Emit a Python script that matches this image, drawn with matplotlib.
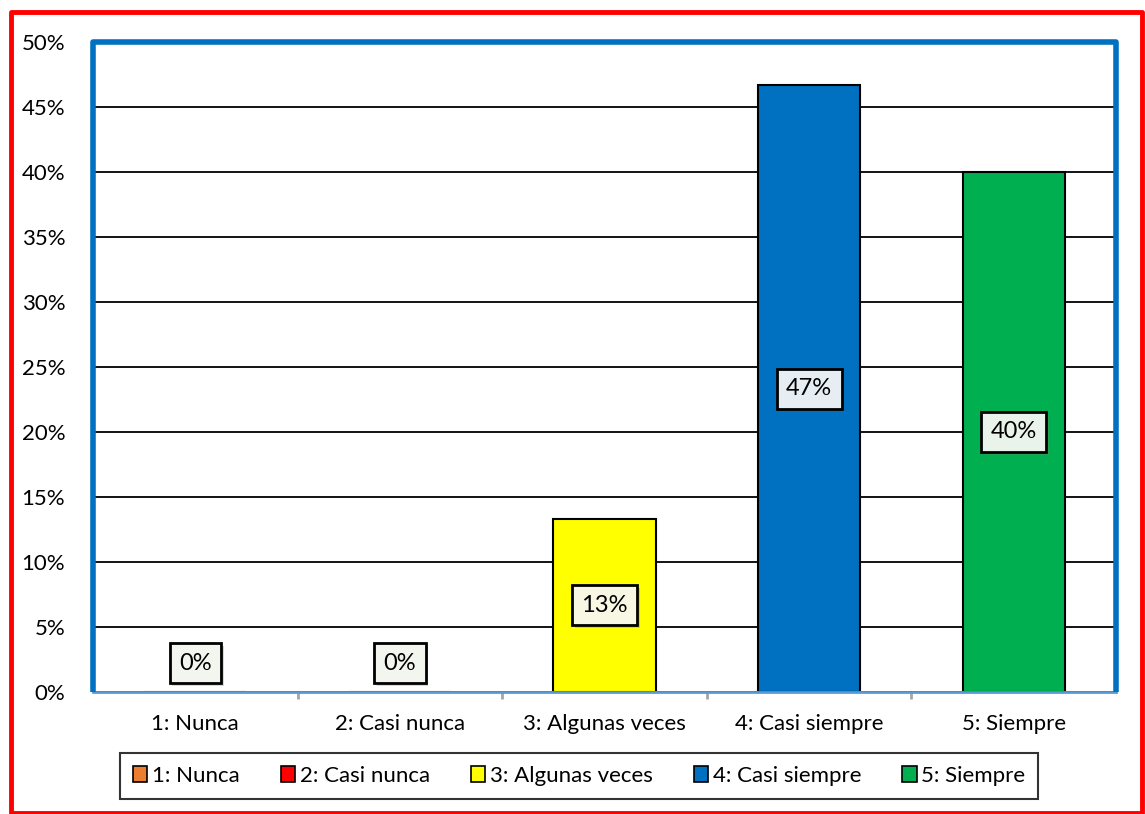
import matplotlib
matplotlib.use("Agg")
import matplotlib.pyplot as plt
from matplotlib.patches import Rectangle, Patch
from matplotlib.lines import Line2D
from matplotlib.ticker import FuncFormatter, MultipleLocator, FixedLocator
import matplotlib.patheffects as pe

categories = ["1: Nunca", "2: Casi nunca", "3: Algunas veces", "4: Casi siempre", "5: Siempre"]
values = [0.0, 0.0, 13.33, 46.67, 40.0]
labels = ["0%", "0%", "13%", "47%", "40%"]
colors = ["#ed7d31", "#ff0000", "#ffff00", "#0070c0", "#00b050"]
label_fills = ["#f3f6ee", "#f3f6ee", "#f7f7e4", "#e6eef4", "#eaf3ea"]

plt.rcParams['font.family'] = ['Lato', 'DejaVu Sans']

fig = plt.figure(figsize=(11.45, 8.14), dpi=100)
ax = fig.add_axes([93/1145, 122/814, (1116-93)/1145, (692-42)/814])

x = list(range(len(categories)))
ax.set_xlim(-0.5, len(categories) - 0.5)
ax.set_ylim(0, 50)

ax.yaxis.set_major_locator(MultipleLocator(5))
ax.yaxis.set_major_formatter(FuncFormatter(lambda v, p: f"{int(round(v))}%"))
ax.grid(axis='y', color='black', lw=1.3, zorder=0)
ax.set_axisbelow(True)

bars = ax.bar(x, values, width=0.5, color=colors, edgecolor='black', lw=1.5, zorder=3)

for xi, v, lab, fc in zip(x, values, labels, label_fills):
    y = v / 2 if v > 0 else 2.2
    t = ax.text(xi, y, lab, ha='center', va='center', fontsize=17, color='black', zorder=5,
                bbox=dict(boxstyle='square,pad=0.4', fc=fc, ec='black', lw=2))
    t.get_bbox_patch().set_path_effects([
        pe.SimplePatchShadow(offset=(2, -2), shadow_rgbFace=(0.45, 0.55, 0.35), alpha=0.3),
        pe.Normal()])

ax.set_xticks(x)
ax.set_xticklabels(categories, fontsize=16)
ax.xaxis.set_minor_locator(FixedLocator([0.5, 1.5, 2.5, 3.5]))
ax.tick_params(axis='x', which='major', length=0, pad=16)
ax.tick_params(axis='x', which='minor', length=5, width=2, color='#a6a6a6')
ax.tick_params(axis='y', length=0, pad=20, labelsize=16)

for s in ['top', 'left', 'right']:
    ax.spines[s].set_visible(False)
ax.spines['bottom'].set_color('#5b9bd5')
ax.spines['bottom'].set_linewidth(2)
ax.spines['bottom'].set_zorder(6)

border = Line2D([0, 0, 1, 1], [0, 1, 1, 0], transform=ax.transAxes, color='#0070c0',
                lw=4, solid_joinstyle='round', solid_capstyle='butt', clip_on=False, zorder=7)
ax.add_line(border)

# outer red border
fig.patches.append(Rectangle((11/1145, 1/814), (1142-11)/1145, (802-1)/814,
                             transform=fig.transFigure, fill=False, ec='#ff0000', lw=3.5,
                             joinstyle='round'))

handles = [Patch(facecolor=c, edgecolor='black', lw=1.2) for c in colors]
leg = fig.legend(handles, categories, loc='center', bbox_to_anchor=(579/1145, 1 - 776/814),
                 ncol=5, fontsize=16, frameon=True, fancybox=False, handlelength=0.65,
                 handleheight=0.75, handletextpad=0.2, columnspacing=1.85, borderpad=0.6)
leg.get_frame().set_edgecolor('black')
leg.get_frame().set_linewidth(1.5)

fig.savefig("out.png", dpi=100)
